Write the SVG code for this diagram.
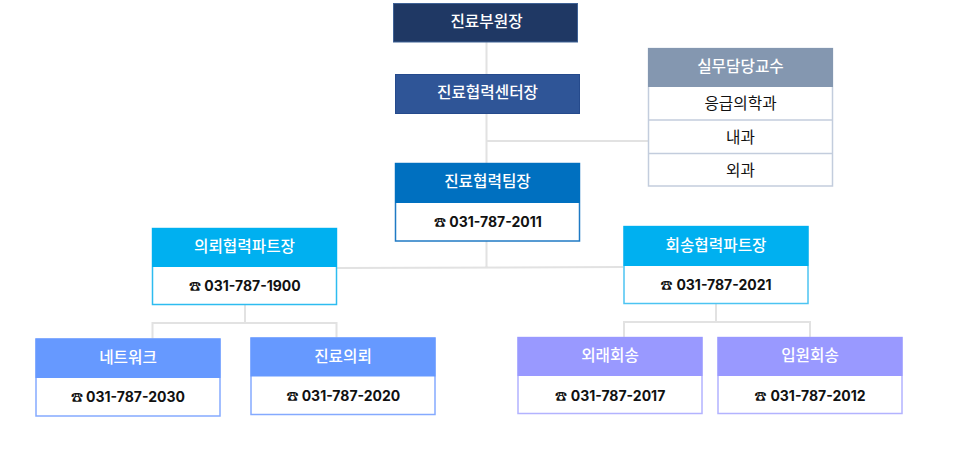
<svg xmlns="http://www.w3.org/2000/svg" width="960" height="474" viewBox="0 0 960 474">
<style>
text{text-anchor:middle;font-family:"Noto Sans CJK KR","Noto Sans",sans-serif}
.h{font-size:15.7px;font-weight:500;fill:#fff}
.r{font-size:15.7px;font-weight:400;fill:#111}
.t{font-family:Inter,"Noto Sans",sans-serif;font-size:14px;font-weight:650;fill:#111}
.i{font-family:"Noto Sans CJK KR",sans-serif;font-size:12px;fill:#111}
.c{fill:none;stroke:#e2e2e2;stroke-width:2}
.b{fill:#fff}
</style>
<g id="connectors">
<path class="c" d="M486.500 42V74M486.500 114V163M486.500 141H648M486.500 241V267.500M336 268L623.500 267"/>
<path class="c" d="M245 305V323M152.500 339V323H336.500V338"/>
<path class="c" d="M716 303V322M624 337V322H810V337"/>
</g>
<g id="n1"><rect x="393.500" y="3.500" width="184" height="38.500" fill="#1f3864" stroke="#3f6296"/><text class="h" x="486.500" y="26.500">진료부원장</text></g>
<g id="n2"><rect x="395.500" y="74.500" width="184" height="39" fill="#2f5597" stroke="#254a8c"/><text class="h" x="487.500" y="97.500">진료협력센터장</text></g>
<g id="n3"><rect x="395.500" y="163.500" width="184" height="77.500" class="b" stroke="#1f7ac4" stroke-width="1.500"/><rect x="395" y="163" width="185" height="40" fill="#0070c0"/><text class="h" x="487.500" y="186.500">진료협력팀장</text><text class="t" x="495.500" y="227">031-787-2011</text><text class="i" x="440" y="227">☎</text></g>
<g id="n4"><rect x="648.500" y="48.500" width="184" height="137.500" class="b" stroke="#c3cddd" stroke-width="1.500"/><rect x="648" y="48" width="185" height="39" fill="#8497b0"/><path d="M648 120H833M648 153.500H833" stroke="#c3cddd" stroke-width="1.500"/><text class="h" x="740.500" y="71.500">실무담당교수</text><text class="r" x="740.500" y="109">응급의학과</text><text class="r" x="740.500" y="142.500">내과</text><text class="r" x="740.500" y="175.500">외과</text></g>
<g id="n5"><rect x="152.500" y="228.500" width="184" height="76" class="b" stroke="#2dbcf0" stroke-width="1.500"/><rect x="152" y="228" width="185" height="39" fill="#00b0f0"/><text class="h" x="244.500" y="251.500">의뢰협력파트장</text><text class="t" x="252.500" y="291">031-787-1900</text><text class="i" x="195" y="291">☎</text></g>
<g id="n6"><rect x="624" y="226.500" width="184" height="77" class="b" stroke="#4cc4f2" stroke-width="1.500"/><rect x="623.500" y="226" width="185" height="40" fill="#00b0f0"/><text class="h" x="716" y="250.500">회송협력파트장</text><text class="t" x="724" y="290">031-787-2021</text><text class="i" x="666.500" y="290">☎</text></g>
<g id="n7"><rect x="36" y="339" width="184" height="77" class="b" stroke="#85aaff" stroke-width="1.500"/><rect x="35.500" y="338.500" width="185" height="39.500" fill="#6699ff"/><text class="h" x="128" y="362.500">네트워크</text><text class="t" x="135.500" y="402">031-787-2030</text><text class="i" x="77" y="402">☎</text></g>
<g id="n8"><rect x="251" y="338" width="184" height="76.500" class="b" stroke="#85aaff" stroke-width="1.500"/><rect x="250.500" y="337.500" width="185" height="39" fill="#6699ff"/><text class="h" x="343" y="361.500">진료의뢰</text><text class="t" x="351" y="401">031-787-2020</text><text class="i" x="292.500" y="401">☎</text></g>
<g id="n9"><rect x="518" y="337.500" width="184" height="76" class="b" stroke="#b3b3ff" stroke-width="1.500"/><rect x="517.500" y="337" width="185" height="39" fill="#9999ff"/><text class="h" x="610" y="360.500">외래회송</text><text class="t" x="618" y="401">031-787-2017</text><text class="i" x="561" y="401">☎</text></g>
<g id="n10"><rect x="718" y="337.500" width="184" height="76" class="b" stroke="#b3b3ff" stroke-width="1.500"/><rect x="717.500" y="337" width="185" height="39" fill="#9999ff"/><text class="h" x="810" y="360.500">입원회송</text><text class="t" x="818" y="401">031-787-2012</text><text class="i" x="760.500" y="401">☎</text></g>
</svg>
